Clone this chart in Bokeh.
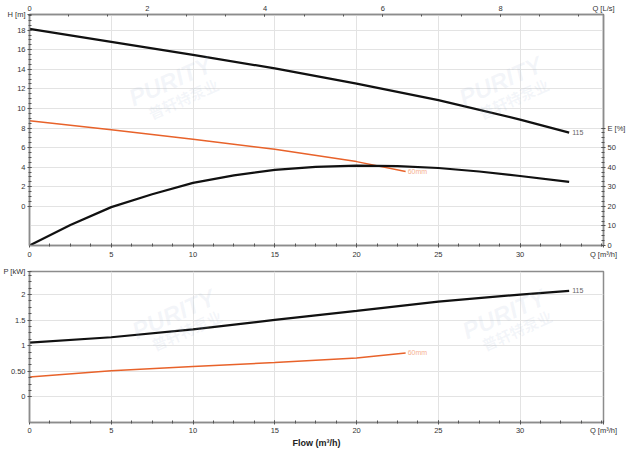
from bokeh.plotting import figure
from bokeh.models import Range1d, LinearAxis, FixedTicker, Label
from bokeh.layouts import column
from bokeh.embed import file_html
from bokeh.resources import INLINE

# ---------------- data ----------------
q_head_115 = [0, 5, 10, 15, 20, 25, 30, 33]
head_115 = [18.13, 16.8, 15.48, 14.09, 12.54, 10.85, 8.86, 7.53]
q_head_60 = [0, 5, 10, 15, 20, 23]
head_60 = [8.75, 7.82, 6.86, 5.83, 4.57, 3.57]
q_eff_115 = [0, 2.5, 5, 7.5, 10, 12.5, 15, 17.5, 20, 22.5, 25, 27.5, 30, 33]
eff_115 = [0, 10.5, 19.6, 26.2, 32.0, 35.8, 38.6, 40.2, 40.8, 40.5, 39.6, 37.8, 35.5, 32.5]
q_pow_115 = [0, 5, 10, 15, 20, 25, 30, 33]
pow_115 = [1.06, 1.165, 1.32, 1.505, 1.68, 1.86, 2.0, 2.07]
q_pow_60 = [0, 5, 10, 15, 20, 23]
pow_60 = [0.39, 0.51, 0.595, 0.67, 0.76, 0.86]

Q_MAX = 35.1
LS_MAX = 9.75
H_MIN, H_MAX = -4, 19.6
E_MAX = 118
P_MIN, P_MAX = -0.5, 2.45

q_ticks = [0, 5, 10, 15, 20, 25, 30]
q_labels = {Q_MAX: "Q [m³/h]"}
ls_ticks = [0, 2, 4, 6, 8]
ls_labels = {LS_MAX: "Q [L/s]"}
head_ticks = [0, 2, 4, 6, 8, 10, 12, 14, 16, 18]
head_grid = [-2, 0, 2, 4, 6, 8, 10, 12, 14, 16, 18]
head_labels = {H_MAX: "H [m]"}
eff_ticks = [0, 10, 20, 30, 40, 50]
eff_labels = {60: "E [%]"}
pow_ticks = [0, 0.5, 1, 1.5, 2]
pow_labels = {0: "0", 0.5: "0.50", 1: "1", 1.5: "1.5", 2: "2", P_MAX: "P [kW]"}

FONT = "Liberation Sans"
AX_COL = "#8c8c8c"
BLACK = "#111111"
ORANGE = "#e8622a"
GRID = "#e3e3e3"


def style_axis(ax, ticks, minor, labels):
    ax.ticker = FixedTicker(ticks=ticks, minor_ticks=minor)
    ax.major_label_overrides = labels
    ax.axis_line_color = AX_COL
    ax.axis_line_width = 1.5
    ax.major_tick_line_color = "#555555"
    ax.minor_tick_line_color = "#555555"
    ax.major_tick_in = 2
    ax.major_tick_out = 2
    ax.minor_tick_in = 2
    ax.minor_tick_out = 1
    ax.major_label_text_font = FONT
    ax.major_label_text_font_size = "7.5px"
    ax.major_label_text_color = "#333333"
    ax.major_label_standoff = 2


def txt(p, x, y, text, **kw):
    opts = dict(text_font=FONT, text_font_size="7px", text_color="#666666")
    opts.update(kw)
    p.add_layout(Label(x=x, y=y, text=text, **opts))


def watermark(p, x, y, x2, y2):
    p.add_layout(Label(x=x, y=y, text="PURITY", angle=0.42, text_font="Liberation Sans",
                       text_font_style="bold italic", text_font_size="24px",
                       text_color="#9fb6cf", text_alpha=0.13,
                       text_align="center", text_baseline="middle"))
    p.add_layout(Label(x=x2, y=y2, text="普轩特泵业", angle=0.42, text_font="Noto Sans CJK SC",
                       text_font_style="bold", text_font_size="15px",
                       text_color="#9fb6cf", text_alpha=0.13,
                       text_align="center", text_baseline="middle"))


def base_fig(height, y_range, top, bottom):
    p = figure(width=628, height=height, x_range=Range1d(0, Q_MAX), y_range=y_range,
               output_backend="svg", toolbar_location=None,
               min_border_left=21, min_border_right=24,
               min_border_top=top, min_border_bottom=bottom)
    p.background_fill_color = "white"
    p.border_fill_color = "white"
    p.outline_line_color = AX_COL
    p.outline_line_width = 1.5
    p.xgrid.grid_line_color = GRID
    p.ygrid.grid_line_color = GRID
    return p


minor_q = [i * 1.25 for i in range(29)]

# ---------------- top chart: head + efficiency ----------------
p1 = base_fig(261, Range1d(H_MIN, H_MAX), 11, 13)
p1.extra_x_ranges = {"ls": Range1d(0, LS_MAX)}
p1.extra_y_ranges = {"eff": Range1d(0, E_MAX)}

style_axis(p1.xaxis[0], q_ticks + [Q_MAX], minor_q, q_labels)
style_axis(p1.yaxis[0], head_ticks + [H_MAX], [i * 0.5 for i in range(40)], head_labels)
p1.xgrid.ticker = FixedTicker(ticks=q_ticks)
p1.ygrid.ticker = FixedTicker(ticks=head_grid)

ax_top = LinearAxis(x_range_name="ls")
style_axis(ax_top, ls_ticks + [LS_MAX], [k * 2 / 3 for k in range(15)], ls_labels)
ax_top.major_tick_out = 0
ax_top.minor_tick_out = 0
p1.add_layout(ax_top, "above")

ax_right = LinearAxis(y_range_name="eff")
style_axis(ax_right, eff_ticks + [60], [k * 2.5 for k in range(25)], eff_labels)
p1.add_layout(ax_right, "right")

watermark(p1, 8.6, 12.8, 9.4, 11.0)
watermark(p1, 28.8, 12.8, 29.6, 11.0)

p1.line(q_head_115, head_115, line_color=BLACK, line_width=2.2)
p1.line(q_head_60, head_60, line_color=ORANGE, line_width=1.5)
p1.line(q_eff_115, eff_115, line_color=BLACK, line_width=2.2, y_range_name="eff")

txt(p1, q_head_115[-1], head_115[-1], "115", x_offset=3, text_baseline="middle")
txt(p1, q_head_60[-1], head_60[-1], "60mm", x_offset=2, text_baseline="middle",
    text_color="#f5b08f")

# ---------------- bottom chart: power ----------------
p2 = base_fig(189, Range1d(P_MIN, P_MAX), 10, 20)
style_axis(p2.xaxis[0], q_ticks + [Q_MAX], minor_q, q_labels)
style_axis(p2.yaxis[0], pow_ticks + [P_MAX], [k * 0.125 for k in range(20)], pow_labels)
p2.xaxis[0].major_label_standoff = 1
p2.xgrid.ticker = FixedTicker(ticks=q_ticks)
p2.ygrid.ticker = FixedTicker(ticks=pow_ticks)
p2.xaxis[0].axis_label = "Flow (m³/h)"
p2.xaxis[0].axis_label_text_font = FONT
p2.xaxis[0].axis_label_text_font_style = "bold"
p2.xaxis[0].axis_label_text_font_size = "9px"
p2.xaxis[0].axis_label_text_color = "#222222"
p2.xaxis[0].axis_label_standoff = 0

watermark(p2, 8.8, 1.62, 9.6, 1.3)
watermark(p2, 29.0, 1.62, 29.8, 1.3)

p2.line(q_pow_115, pow_115, line_color=BLACK, line_width=2.2)
p2.line(q_pow_60, pow_60, line_color=ORANGE, line_width=1.5)

txt(p2, q_pow_115[-1], pow_115[-1], "115", x_offset=3, text_baseline="middle")
txt(p2, q_pow_60[-1], pow_60[-1], "60mm", x_offset=2, text_baseline="middle",
    text_color="#f5b08f")

layout = column(p1, p2, spacing=0)
open("out.html", "w").write(file_html(layout, INLINE))
